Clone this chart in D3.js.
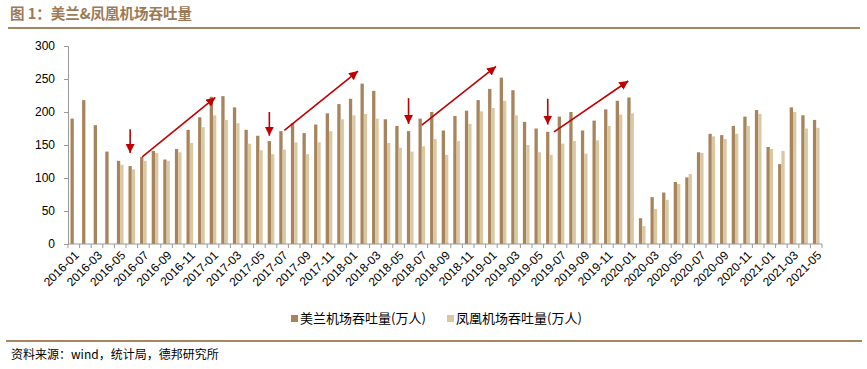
<!DOCTYPE html>
<html><head><meta charset="utf-8">
<script src="https://cdn.jsdelivr.net/npm/d3@7/dist/d3.min.js"></script>
<style>body{margin:0;background:#fff;}svg{display:block;}</style>
</head><body>
<script>
const categories = ["2016-01","2016-02","2016-03","2016-04","2016-05","2016-06","2016-07","2016-08","2016-09","2016-10","2016-11","2016-12",
"2017-01","2017-02","2017-03","2017-04","2017-05","2017-06","2017-07","2017-08","2017-09","2017-10","2017-11","2017-12",
"2018-01","2018-02","2018-03","2018-04","2018-05","2018-06","2018-07","2018-08","2018-09","2018-10","2018-11","2018-12",
"2019-01","2019-02","2019-03","2019-04","2019-05","2019-06","2019-07","2019-08","2019-09","2019-10","2019-11","2019-12",
"2020-01","2020-02","2020-03","2020-04","2020-05","2020-06","2020-07","2020-08","2020-09","2020-10","2020-11","2020-12",
"2021-01","2021-02","2021-03","2021-04","2021-05"];
const meilan = [190,218,180,140,126,118,132,141,128,144,173,192,
223,224,207,173,164,156,171,183,168,181,198,212,
220,243,232,189,179,171,190,200,172,194,202,218,
235,252,233,185,175,170,193,200,172,187,204,217,
222,39,71,78,94,101,139,167,165,179,193,203,
147,121,207,195,188];
const fenghuang = [null,null,null,null,120,113,126,138,126,139,153,177,
195,188,183,152,142,136,143,154,136,154,171,189,
195,197,190,153,146,140,148,159,135,156,182,201,
206,217,195,150,139,135,152,156,137,157,179,196,
198,27,53,67,91,106,138,163,159,167,179,197,
144,141,200,175,176];
const seriesNames = ["美兰机场吞吐量(万人)","凤凰机场吞吐量(万人)"];
const yTicks = [0,50,100,150,200,250,300];
const downArrows = [["2016-06",174,138],["2017-06",200,164],["2018-06",221,182],["2019-06",220,181]];
const upArrows = [
  [["2016-07",-0.1,132],["2017-01",0.2,222]],
  [["2017-07",0.15,172],["2018-01",0.5,262]],
  [["2018-07",0.0,180],["2019-01",0.4,269]],
  [["2019-06",0.4,170],["2019-12",0.8,247]]
];

const W = 867, H = 369;
const colors = ["#a7845c","#dac8a2"];
const svg = d3.select("body").append("svg").attr("width",W).attr("height",H);

// title
svg.append("text").attr("x",10).attr("y",19)
  .attr("font-family","'Noto Sans CJK SC','Noto Sans',sans-serif").attr("font-size",14.5).attr("font-weight","bold")
  .attr("fill","#9c7a55").text("图 1：美兰&凤凰机场吞吐量");
svg.append("line").attr("x1",8).attr("x2",860).attr("y1",28).attr("y2",28)
  .attr("stroke","#a58660").attr("stroke-width",2);

const x = d3.scaleBand().domain(categories).range([68,822]).paddingInner(0.43).paddingOuter(0.215);
const xs = d3.scaleBand().domain([0,1]).range([0,x.bandwidth()]);
const y = d3.scaleLinear().domain([0,300]).range([244,46]);

// y axis
const yAxis = svg.append("g").attr("transform","translate(68,0)")
  .call(d3.axisLeft(y).tickValues(yTicks).tickSize(4).tickPadding(9));
yAxis.selectAll("text").attr("font-family","Liberation Sans, Arial, sans-serif").attr("font-size",12).attr("fill","#000");
yAxis.selectAll("line,path").attr("stroke","#999");

// bars
[meilan, fenghuang].forEach((vals,si)=>{
  svg.append("g").selectAll("rect").data(categories.map((c,i)=>({c,v:vals[i]})).filter(d=>d.v!=null))
    .enter().append("rect")
    .attr("x",d=>x(d.c)+xs(si)).attr("width",xs.bandwidth())
    .attr("y",d=>y(d.v)).attr("height",d=>y(0)-y(d.v))
    .attr("fill",colors[si]);
});

// x axis
const step = x.step();
const xg = svg.append("g");
xg.append("line").attr("x1",68).attr("x2",822).attr("y1",y(0)).attr("y2",y(0)).attr("stroke","#999");
const bounds = categories.map(c=>x(c)-step*0.215).concat([x(categories[categories.length-1])-step*0.215+step]);
xg.selectAll("line.tk").data(bounds).enter().append("line").attr("class","tk")
  .attr("x1",d=>d).attr("x2",d=>d).attr("y1",y(0)).attr("y2",y(0)+4).attr("stroke","#999");
xg.selectAll("text").data(categories.filter((c,i)=>i%2===0)).enter().append("text")
  .attr("transform",d=>`translate(${x(d)+x.bandwidth()/2+3},${y(0)+9}) rotate(-45)`)
  .attr("text-anchor","end").attr("dy","0.35em")
  .attr("font-family","Liberation Sans, Arial, sans-serif").attr("font-size",12).attr("fill","#000")
  .text(d=>d);

// arrows
const red = "#c00000";
const defs = svg.append("defs");
defs.append("marker").attr("id","ah").attr("viewBox","0 0 10 10").attr("refX",10).attr("refY",5)
  .attr("markerWidth",9).attr("markerHeight",9).attr("markerUnits","userSpaceOnUse").attr("orient","auto")
  .append("path").attr("d","M0,0L10,5L0,10Z").attr("fill",red);
const darkX = c => x(c)+xs(0)+xs.bandwidth()/2;
const catX = (c,off) => x(c)+x.bandwidth()/2+off*step;
svg.append("g").selectAll("line").data(downArrows).enter().append("line")
  .attr("x1",d=>darkX(d[0])).attr("x2",d=>darkX(d[0]))
  .attr("y1",d=>y(d[1])).attr("y2",d=>y(d[2]))
  .attr("stroke",red).attr("stroke-width",1.6).attr("marker-end","url(#ah)");
svg.append("g").selectAll("line").data(upArrows).enter().append("line")
  .attr("x1",d=>catX(d[0][0],d[0][1])).attr("y1",d=>y(d[0][2]))
  .attr("x2",d=>catX(d[1][0],d[1][1])).attr("y2",d=>y(d[1][2]))
  .attr("stroke",red).attr("stroke-width",1.6).attr("marker-end","url(#ah)");

// legend
const lg = svg.append("g");
const lgX = [291,447];
seriesNames.forEach((n,i)=>{
  lg.append("rect").attr("x",lgX[i]).attr("y",315).attr("width",7).attr("height",7).attr("fill",colors[i]);
  lg.append("text").attr("x",lgX[i]+9).attr("y",323)
    .attr("font-family","'Noto Sans CJK SC',sans-serif").attr("font-size",13).attr("fill","#000").text(n);
});

// footer
svg.append("line").attr("x1",6).attr("x2",862).attr("y1",341).attr("y2",341)
  .attr("stroke","#a58660").attr("stroke-width",2);
svg.append("text").attr("x",11).attr("y",359)
  .attr("font-family","'Noto Sans CJK SC',sans-serif").attr("font-size",12).attr("fill","#000")
  .text("资料来源：wind，统计局，德邦研究所");
</script>
</body></html>
